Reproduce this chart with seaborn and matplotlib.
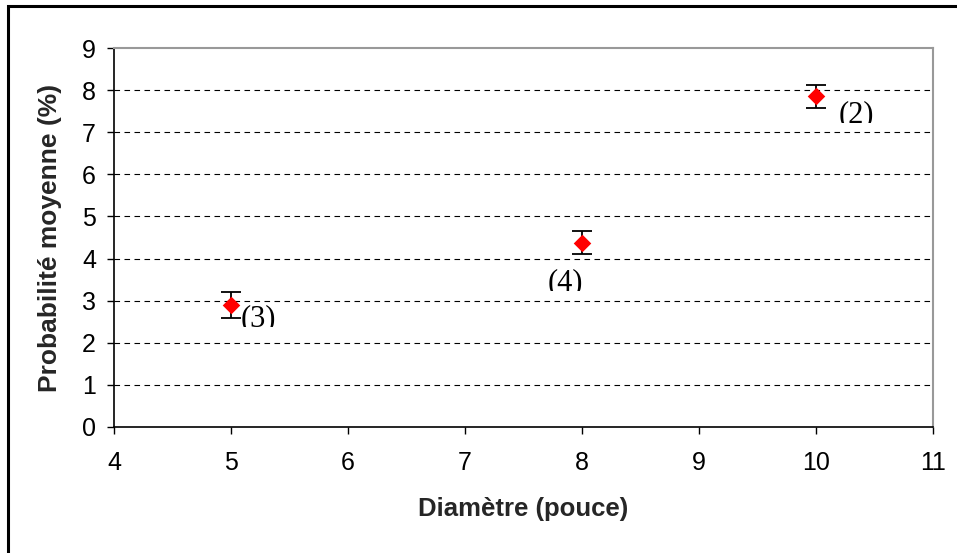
import matplotlib
matplotlib.use("Agg")
import matplotlib.pyplot as plt
import seaborn as sns
import pandas as pd
from matplotlib.patches import Rectangle
from matplotlib.transforms import Bbox

# donnees
diametre = [5, 8, 10]
probabilite = [2.9, 4.38, 7.85]
erreur = [0.3, 0.28, 0.28]
etiquettes = ["(3)", "(4)", "(2)"]

df = pd.DataFrame({"diametre": diametre, "probabilite": probabilite})

sns.set_theme(style="white")
plt.rcParams['font.family'] = ['Liberation Sans', 'DejaVu Sans']

W, H = 957, 553
fig = plt.figure(figsize=(W / 100, H / 100), dpi=100)
ax = fig.add_axes([114 / W, 1 - 427 / H, (933 - 114) / W, (427 - 48) / H])

# cadre exterieur
fig.patches.append(Rectangle((8 / W, -0.05), 1.1, 1 - 6 / H + 0.05,
                             transform=fig.transFigure, fill=False,
                             edgecolor="black", linewidth=2.2))

ax.errorbar(diametre, probabilite, yerr=erreur, fmt="none", ecolor="black",
            elinewidth=1.3, capsize=7, capthick=1.3, zorder=3)
sns.scatterplot(data=df, x="diametre", y="probabilite", marker="D", s=80,
                color="red", edgecolor="red", linewidth=0, ax=ax, zorder=4)

ax.set_xlim(4, 11)
ax.set_ylim(0, 9)
ax.set_xticks(range(4, 12))
ax.set_yticks(range(0, 10))
for yv in range(1, 9):
    ax.axhline(yv, color="black", linestyle=(0, (5, 4)), linewidth=0.8, zorder=1)

# etiquettes des points (coupees en bas comme dans l'original)
pos_etiq = [(5.08, 2.40), (7.71, 3.25), (10.19, 7.24)]
for (x, y), t in zip(pos_etiq, etiquettes):
    txt = ax.text(x, y, t, fontsize=22, family="Liberation Serif",
                  ha="left", va="baseline", color="black", zorder=5)
    px, py = ax.transData.transform((x, y))
    txt.set_clip_box(Bbox.from_extents(px - 5, py - 1, px + 60, py + 60))
    txt.set_clip_on(True)

ax.tick_params(axis="both", direction="out", length=5, width=1, labelsize=18,
               colors="black", bottom=True, left=True)
ax.tick_params(axis="y", pad=8)
ax.tick_params(axis="x", pad=12)
for side in ["left", "bottom"]:
    ax.spines[side].set_color("black")
    ax.spines[side].set_linewidth(1.2)
for side in ["top", "right"]:
    ax.spines[side].set_color("#999999")
    ax.spines[side].set_linewidth(1.5)

ax.set_xlabel("Diamètre (pouce)", fontsize=18.5, fontweight="bold", labelpad=16)
ax.set_ylabel("Probabilité moyenne (%)", fontsize=19, fontweight="bold", labelpad=14)

fig.savefig("out.png", dpi=100)
